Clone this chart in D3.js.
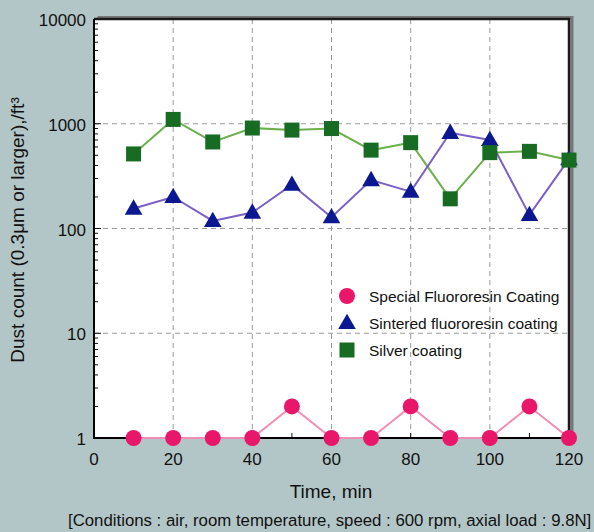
<!DOCTYPE html>
<html>
<head>
<meta charset="utf-8">
<script src="https://cdn.jsdelivr.net/npm/d3@7"></script>
<style>
  body { margin: 0; background: #b3c6c7; }
  svg { display: block; font-family: "Liberation Sans", Arial, sans-serif; }
</style>
</head>
<body>
<div id="chart"></div>
<script>
// data
var times = [10, 20, 30, 40, 50, 60, 70, 80, 90, 100, 110, 120];
var special = [1, 1, 1, 1, 2, 1, 1, 2, 1, 1, 2, 1];
var sintered = [155, 200, 118, 142, 262, 128, 290, 225, 820, 700, 135, 460];
var silver = [515, 1100, 670, 910, 870, 900, 560, 660, 192, 530, 545, 450];
var seriesNames = ["Special Fluororesin Coating", "Sintered fluororesin coating", "Silver coating"];
var xTicks = [0, 20, 40, 60, 80, 100, 120];
var yTicks = [1, 10, 100, 1000, 10000];

var svgWidth = 594;
var svgHeight = 532;
var margin = { top: 19, right: 25, bottom: 94, left: 94 };
var width = svgWidth - margin.left - margin.right;
var height = svgHeight - margin.top - margin.bottom;

var svg = d3.select("#chart")
  .append("svg")
  .attr("width", svgWidth)
  .attr("height", svgHeight);

var chartGroup = svg.append("g")
  .attr("transform", `translate(${margin.left}, ${margin.top})`);

var x = d3.scaleLinear().domain([0, 120]).range([0, width]);
var y = d3.scaleLog().domain([1, 10000]).range([height, 0]);

// plot background
chartGroup.append("rect")
  .attr("width", width)
  .attr("height", height)
  .attr("fill", "white");

// grid
chartGroup.selectAll(".vgrid")
  .data([20, 40, 60, 80, 100])
  .enter()
  .append("line")
  .attr("x1", d => x(d)).attr("x2", d => x(d))
  .attr("y1", 0).attr("y2", height)
  .attr("stroke", "#9a9a9a")
  .attr("stroke-width", 1)
  .attr("stroke-dasharray", "5,4");

chartGroup.selectAll(".hgrid")
  .data([10, 100, 1000])
  .enter()
  .append("line")
  .attr("x1", 0).attr("x2", width)
  .attr("y1", d => y(d)).attr("y2", d => y(d))
  .attr("stroke", "#9a9a9a")
  .attr("stroke-width", 1)
  .attr("stroke-dasharray", "5,4");

// minor ticks on y
var minor = [];
[1, 10, 100, 1000].forEach(function(p) {
  for (var k = 2; k <= 9; k++) minor.push(p * k);
});
chartGroup.selectAll(".ymin")
  .data(minor)
  .enter()
  .append("line")
  .attr("x1", 0).attr("x2", 4)
  .attr("y1", d => y(d)).attr("y2", d => y(d))
  .attr("stroke", "#111")
  .attr("stroke-width", 1);

chartGroup.selectAll(".ymaj")
  .data(yTicks)
  .enter()
  .append("line")
  .attr("x1", 0).attr("x2", 7)
  .attr("y1", d => y(d)).attr("y2", d => y(d))
  .attr("stroke", "#111")
  .attr("stroke-width", 1);

chartGroup.selectAll(".xt")
  .data(times)
  .enter()
  .append("line")
  .attr("x1", d => x(d)).attr("x2", d => x(d))
  .attr("y1", height).attr("y2", height - 5)
  .attr("stroke", "#111")
  .attr("stroke-width", 1);

// frame: shadow then border
chartGroup.append("path")
  .attr("d", `M2,-1.5 H${width + 1.5} V${height}`)
  .attr("fill", "none")
  .attr("stroke", "#777")
  .attr("stroke-width", 3)
  .attr("transform", "translate(1.5,0)");
chartGroup.append("path")
  .attr("d", `M0,0 H${width} V${height}`)
  .attr("fill", "none")
  .attr("stroke", "#1a1a1a")
  .attr("stroke-width", 2.5);
chartGroup.append("path")
  .attr("d", `M0,0 V${height} H${width}`)
  .attr("fill", "none")
  .attr("stroke", "#000")
  .attr("stroke-width", 2);

// tick labels
chartGroup.selectAll(".ylab")
  .data(yTicks)
  .enter()
  .append("text")
  .attr("x", -8)
  .attr("y", d => y(d) + 7)
  .attr("text-anchor", "end")
  .attr("font-size", 17)
  .attr("fill", "#111")
  .text(d => d);

chartGroup.selectAll(".xlab")
  .data(xTicks)
  .enter()
  .append("text")
  .attr("x", d => x(d))
  .attr("y", height + 27)
  .attr("text-anchor", "middle")
  .attr("font-size", 17)
  .attr("fill", "#111")
  .text(d => d);

// lines and markers
var line = d3.line()
  .x(d => x(d[0]))
  .y(d => y(d[1]));

function pairs(vals) {
  return times.map((t, i) => [t, vals[i]]);
}

chartGroup.append("path")
  .datum(pairs(silver))
  .attr("d", line)
  .attr("fill", "none")
  .attr("stroke", "#6cb04e")
  .attr("stroke-width", 2);

chartGroup.append("path")
  .datum(pairs(sintered))
  .attr("d", line)
  .attr("fill", "none")
  .attr("stroke", "#7a5fc9")
  .attr("stroke-width", 2);

chartGroup.append("path")
  .datum(pairs(special))
  .attr("d", line)
  .attr("fill", "none")
  .attr("stroke", "#f28db3")
  .attr("stroke-width", 2);

var tri = d3.symbol().type(d3.symbolTriangle).size(135);

chartGroup.selectAll(".tri")
  .data(pairs(sintered))
  .enter()
  .append("path")
  .attr("d", tri)
  .attr("transform", d => `translate(${x(d[0])}, ${y(d[1]) + 1})`)
  .attr("fill", "#0c1890");

chartGroup.selectAll(".sq")
  .data(pairs(silver))
  .enter()
  .append("rect")
  .attr("x", d => x(d[0]) - 7.5)
  .attr("y", d => y(d[1]) - 7.5)
  .attr("width", 15)
  .attr("height", 15)
  .attr("fill", "#176b22");

chartGroup.selectAll(".dot")
  .data(pairs(special))
  .enter()
  .append("circle")
  .attr("cx", d => x(d[0]))
  .attr("cy", d => y(d[1]))
  .attr("r", 8)
  .attr("fill", "#e8176a");

// legend
var legend = chartGroup.append("g")
  .attr("transform", `translate(${347 - margin.left}, ${296 - margin.top})`);

legend.append("circle").attr("cx", 0).attr("cy", 0).attr("r", 8).attr("fill", "#e8176a");
legend.append("path").attr("d", tri).attr("transform", "translate(0, 28)").attr("fill", "#0c1890");
legend.append("rect").attr("x", -7.5).attr("y", 46.5).attr("width", 15).attr("height", 15).attr("fill", "#176b22");

legend.selectAll("text")
  .data(seriesNames)
  .enter()
  .append("text")
  .attr("x", 22)
  .attr("y", (d, i) => i * 27 + 6)
  .attr("font-size", 15.5)
  .attr("fill", "#111")
  .text(d => d);

// axis titles
svg.append("text")
  .attr("x", 331)
  .attr("y", 498)
  .attr("text-anchor", "middle")
  .attr("font-size", 19)
  .attr("fill", "#111")
  .text("Time, min");

svg.append("text")
  .attr("transform", "translate(24, 230) rotate(-90)")
  .attr("text-anchor", "middle")
  .attr("font-size", 19)
  .attr("fill", "#111")
  .text("Dust count (0.3μm or larger),/ft³");

svg.append("text")
  .attr("x", 68)
  .attr("y", 526)
  .attr("font-size", 16.8)
  .attr("fill", "#111")
  .text("[Conditions : air, room temperature, speed : 600 rpm, axial load : 9.8N]");
</script>
</body>
</html>
